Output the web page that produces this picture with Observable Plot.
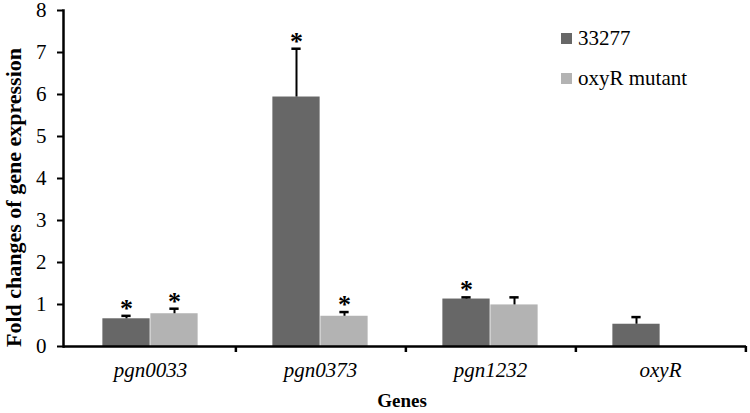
<!DOCTYPE html>
<html><head><meta charset="utf-8">
<script src="https://cdn.jsdelivr.net/npm/d3@7"></script>
<script src="https://cdn.jsdelivr.net/npm/@observablehq/plot@0.6"></script>
<style>
body{margin:0;background:#fff}
#wrap{position:relative;width:750px;height:413px;font-family:"Liberation Serif",serif}
#legend{position:absolute;left:561px;top:24px;font-size:21px;color:#000}
#legend .item{display:flex;align-items:center;height:28px;margin-bottom:12px}
#legend .sw{width:11px;height:11px;margin-right:6px}
</style>
</head><body><div id="wrap"></div>
<script>
const genes = ["pgn0033", "pgn0373", "pgn1232", "oxyR"];
const seriesNames = ["33277", "oxyR mutant"];
const wt = [0.66, 5.94, 1.13, 0.53];
const wtErr = [0.07, 1.15, 0.04, 0.17];
const wtSig = [true, true, true, false];
const mut = [0.78, 0.72, 0.99, null];
const mutErr = [0.12, 0.10, 0.18, null];
const mutSig = [true, true, false, false];
const yTicks = [0, 1, 2, 3, 4, 5, 6, 7, 8];
const colors = ["#676767", "#b3b3b3"];
const yTitle = "Fold changes of gene expression";
const xTitle = "Genes";

const FF = "Liberation Serif";
const W = 750, H = 413, mL = 63, mR = 4, mT = 10, mB = 67;
const bw = (W - mL - mR) / genes.length;
const half = bw / 2, barW = 48, capW = 10;
const offs = [-barW / 2, barW / 2];

const seriesRows = [
  genes.map((g, i) => ({gene: g, value: wt[i], err: wtErr[i], sig: wtSig[i]})),
  genes.map((g, i) => ({gene: g, value: mut[i], err: mutErr[i], sig: mutSig[i]}))
].map(rows => rows.filter(d => d.value != null));

const marks = [];
seriesRows.forEach((rows, j) => {
  marks.push(Plot.barY(rows, {x: "gene", y: "value", fill: colors[j],
    insetLeft: half + offs[j] - barW / 2, insetRight: half - offs[j] - barW / 2}));
  marks.push(Plot.ruleX(rows, {x: "gene", y1: "value", y2: d => d.value + d.err, dx: offs[j], stroke: "#000", strokeWidth: 2}));
  marks.push(Plot.tickY(rows, {x: "gene", y: d => d.value + d.err, dx: offs[j], stroke: "#000", strokeWidth: 2.5,
    insetLeft: half - capW / 2, insetRight: half - capW / 2}));
  marks.push(Plot.text(rows.filter(d => d.sig), {x: "gene", y: d => d.value + d.err, dx: offs[j], dy: 1, text: () => "*",
    lineAnchor: "bottom", fontFamily: FF, fontSize: 26, fontWeight: "bold", fill: "#000"}));
});

const chart = Plot.plot({
  width: W, height: H,
  marginLeft: mL, marginRight: mR, marginTop: mT, marginBottom: mB,
  style: {fontFamily: FF, fontSize: "20px", color: "#000", background: "#fff", overflow: "visible"},
  x: {domain: genes, padding: 0, axis: null},
  y: {domain: [0, 8], axis: null},
  marks: [
    ...marks,
    Plot.ruleY([0], {stroke: "#000", strokeWidth: 2.5}),
    Plot.frame({anchor: "left", stroke: "#000", strokeWidth: 2.5}),
    Plot.axisY({ticks: yTicks, text: null, tickSize: 6, strokeWidth: 2, label: null}),
    Plot.text(yTicks, {y: d => d, text: d => String(d), frameAnchor: "left", textAnchor: "end", dx: -17,
      fontFamily: FF, fontSize: 21, fill: "#000"}),
    Plot.text(genes, {x: d => d, text: d => d, frameAnchor: "bottom", lineAnchor: "top", dy: 16,
      fontFamily: FF, fontSize: 21, fontStyle: "italic", fill: "#000"}),
    Plot.axisX({text: null, tickSize: 6, dx: half, strokeWidth: 2.5, label: null}),
    Plot.text([yTitle], {frameAnchor: "left", textAnchor: "middle", dx: -50, dy: 19, rotate: -90, fontFamily: FF, fontSize: 22, fontWeight: "bold", fill: "#000"}),
    Plot.text([xTitle], {frameAnchor: "bottom", dy: 60, dx: -3, fontFamily: FF, fontSize: 19, fontWeight: "bold", fill: "#000"})
  ]
});

const wrap = document.getElementById("wrap");
wrap.appendChild(chart);
const legend = document.createElement("div");
legend.id = "legend";
seriesNames.forEach((s, j) => {
  const item = document.createElement("div");
  item.className = "item";
  const sw = document.createElement("span");
  sw.className = "sw";
  sw.style.background = colors[j];
  const t = document.createElement("span");
  t.textContent = s;
  item.appendChild(sw); item.appendChild(t);
  legend.appendChild(item);
});
wrap.appendChild(legend);
</script>
</body></html>
